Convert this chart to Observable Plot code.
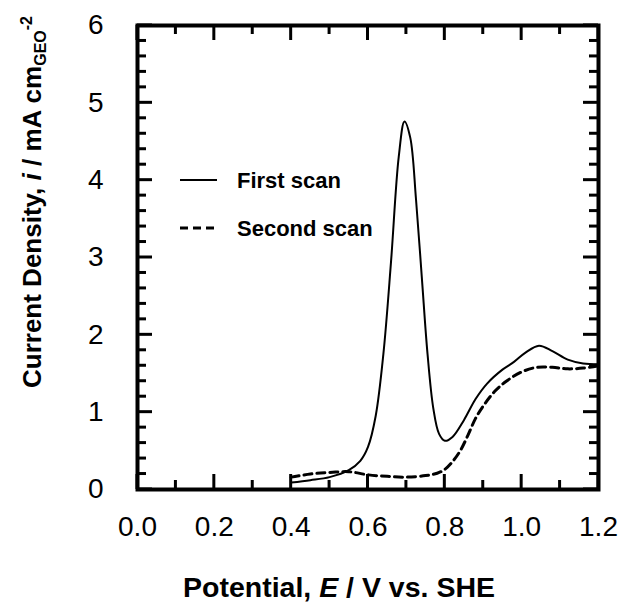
<!DOCTYPE html>
<html><head><meta charset="utf-8">
<script src="https://cdn.jsdelivr.net/npm/d3@7"></script>
<script src="https://cdn.jsdelivr.net/npm/@observablehq/plot@0.6"></script>
<style>
body{margin:0;background:#fff}
#chart svg{display:block}
</style>
</head><body><div id="chart"></div>
<script>
// First scan (solid)
const firstE = [0.40,0.45,0.50,0.55,0.58,0.60,0.62,0.64,0.66,0.68,0.695,0.71,0.725,0.74,0.755,0.77,0.785,0.80,0.82,0.85,0.88,0.91,0.95,0.98,1.01,1.045,1.08,1.12,1.16,1.20];
const firstI = [0.09,0.12,0.16,0.25,0.37,0.55,0.95,1.75,2.95,4.30,4.76,4.55,3.75,2.75,1.75,1.05,0.72,0.63,0.68,0.90,1.17,1.37,1.55,1.65,1.77,1.86,1.79,1.68,1.63,1.62];
// Second scan (dashed)
const secondE = [0.40,0.45,0.50,0.55,0.60,0.65,0.70,0.75,0.78,0.80,0.82,0.84,0.86,0.88,0.90,0.93,0.96,1.00,1.04,1.08,1.12,1.16,1.20];
const secondI = [0.16,0.20,0.22,0.23,0.19,0.17,0.16,0.18,0.21,0.26,0.36,0.50,0.70,0.92,1.08,1.27,1.40,1.52,1.58,1.58,1.56,1.57,1.60];

const seriesNames = ["First scan", "Second scan"];
const xMajorTicks = [0.0,0.2,0.4,0.6,0.8,1.0,1.2];
const xMinorTicks = [0.1,0.3,0.5,0.7,0.9,1.1];
const yMajorTicks = [0,1,2,3,4,5,6];
const yMinorTicks = [0.2,0.4,0.6,0.8,1.2,1.4,1.6,1.8,2.2,2.4,2.6,2.8,3.2,3.4,3.6,3.8,4.2,4.4,4.6,4.8,5.2,5.4,5.6,5.8];

const first = firstE.map((e,k)=>({E:e, i:firstI[k]}));
const second = secondE.map((e,k)=>({E:e, i:secondI[k]}));

const W = 628, H = 604, mL = 137, mR = 30, mT = 25, mB = 115;
const xDomain = [0, 1.2], yDomain = [0, 6];
const majorLen = 15, minorLen = 9;
const font = "'Liberation Sans', Arial, sans-serif";

const plot = Plot.plot({
  width: W, height: H,
  marginLeft: mL, marginRight: mR, marginTop: mT, marginBottom: mB,
  style: {fontFamily: font, fontSize: "27px", color: "black", background: "white"},
  x: {domain: xDomain},
  y: {domain: yDomain},
  marks: [
    Plot.line(first, {x: "E", y: "i", curve: "catmull-rom", stroke: "black", strokeWidth: 2}),
    Plot.line(second, {x: "E", y: "i", curve: "catmull-rom", stroke: "black", strokeWidth: 3, strokeDasharray: "8,5"}),
    Plot.frame({stroke: "black", strokeWidth: 4}),
    Plot.axisX({ticks: xMajorTicks, tickSize: 0, tickPadding: 27, tickFormat: d3.format(".1f"), label: null}),
    Plot.axisY({ticks: yMajorTicks, tickSize: 0, tickPadding: 34, tickFormat: d3.format("d"), label: null})
  ]
});
document.getElementById("chart").appendChild(plot);

const svg = d3.select(plot);
svg.selectAll('g[aria-label="x-axis tick label"], g[aria-label="y-axis tick label"]')
  .attr("font-size", 28).style("font-size", "28px");

// Inward ticks on all four sides, positioned through Plot's own scales
const sx = plot.scale("x"), sy = plot.scale("y");
const yBot = sy.apply(yDomain[0]), yTop = sy.apply(yDomain[1]);
const xLeft = sx.apply(xDomain[0]), xRight = sx.apply(xDomain[1]);
const tg = svg.append("g").attr("stroke", "black").attr("stroke-width", 3);
const xTickSets = [[xMajorTicks, majorLen], [xMinorTicks, minorLen]];
xTickSets.forEach(([ticks, len]) => {
  ticks.forEach(v => {
    const px = sx.apply(v);
    tg.append("line").attr("x1", px).attr("x2", px).attr("y1", yBot).attr("y2", yBot - len);
    tg.append("line").attr("x1", px).attr("x2", px).attr("y1", yTop).attr("y2", yTop + len);
  });
});
const yTickSets = [[yMajorTicks, majorLen], [yMinorTicks, minorLen]];
yTickSets.forEach(([ticks, len]) => {
  ticks.forEach(v => {
    const py = sy.apply(v);
    tg.append("line").attr("x1", xLeft).attr("x2", xLeft + len).attr("y1", py).attr("y2", py);
    tg.append("line").attr("x1", xRight).attr("x2", xRight - len).attr("y1", py).attr("y2", py);
  });
});

// X title
const xt = svg.append("text")
  .attr("x", 339).attr("y", 597)
  .attr("text-anchor", "middle")
  .attr("font-family", font).attr("font-weight", "bold").attr("font-size", 28.5).attr("fill", "black");
xt.append("tspan").text("Potential, ");
xt.append("tspan").attr("font-style", "italic").text("E");
xt.append("tspan").text(" / V vs. SHE");

// Y title
const yt = svg.append("text")
  .attr("transform", "translate(41,388) rotate(-90)")
  .attr("text-anchor", "start")
  .attr("font-family", font).attr("font-weight", "bold").attr("font-size", 26).attr("fill", "black");
yt.append("tspan").text("Current Density, ");
yt.append("tspan").attr("font-style", "italic").text("i");
yt.append("tspan").text(" / mA cm");
yt.append("tspan").attr("font-size", 16).attr("dy", 5).text("GEO");
yt.append("tspan").attr("font-size", 16).attr("dy", -14).text("-2");

// Legend
const leg = svg.append("g");
const legendRows = [
  {name: seriesNames[0], dash: null, sw: 2, y: 180},
  {name: seriesNames[1], dash: "8,5", sw: 3, y: 228}
];
legendRows.forEach(r => {
  leg.append("line").attr("x1", 180).attr("x2", 217).attr("y1", r.y).attr("y2", r.y)
    .attr("stroke", "black").attr("stroke-width", r.sw).attr("stroke-dasharray", r.dash);
  leg.append("text").attr("x", 237).attr("y", r.y).attr("dy", "0.35em")
    .attr("text-anchor", "start")
    .attr("font-family", font).attr("font-weight", "bold").attr("font-size", 22).attr("fill", "black")
    .text(r.name);
});
</script>
</body></html>
